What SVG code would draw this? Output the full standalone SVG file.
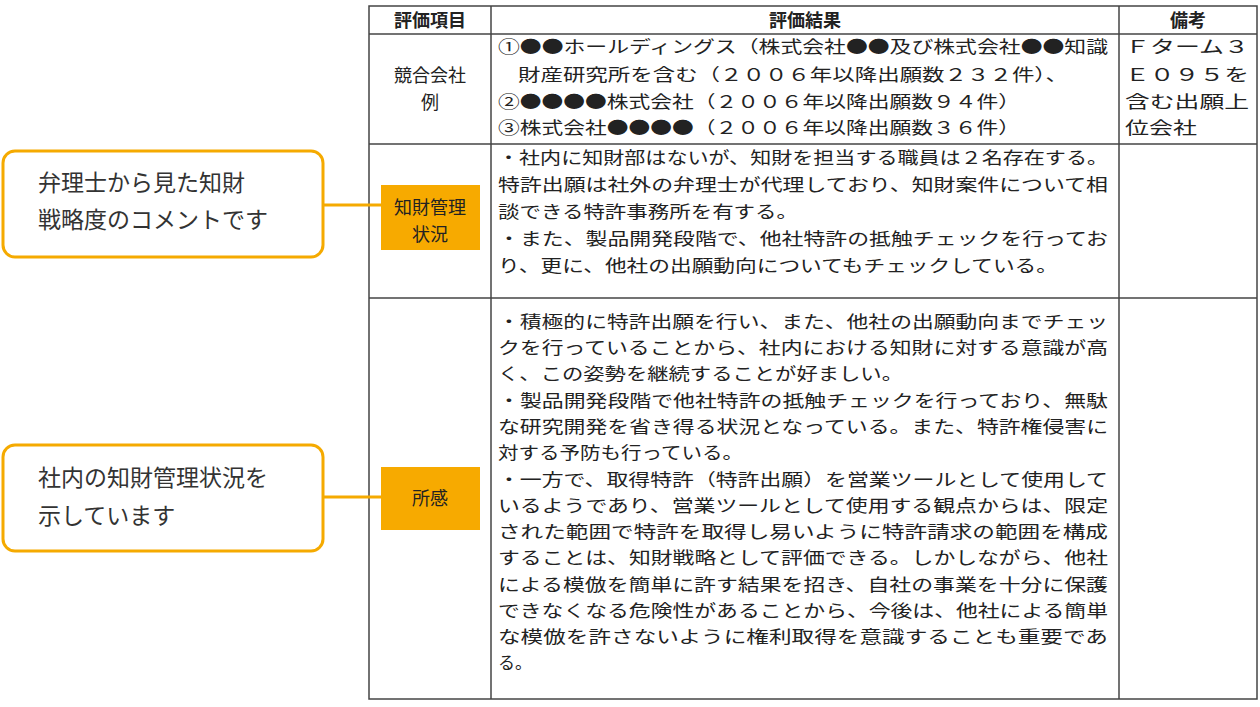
<svg xmlns="http://www.w3.org/2000/svg" width="1260" height="707" viewBox="0 0 1260 707">
<style>
text{font-family:"Noto Sans CJK JP","Noto Sans CJK SC",sans-serif}
.t{font-size:17px;fill:#222}
.h{font-size:18px;fill:#222;text-anchor:middle;font-weight:bold}
.m{font-size:18px;fill:#222;text-anchor:middle}
.g{stroke:#444;stroke-width:1.5;fill:none}
.call{fill:#fff;stroke:#F5AA00;stroke-width:3}
.ct{font-size:23px;fill:#333}
.ob{fill:#F7AA00}
</style>
<rect width="1260" height="707" fill="#fff"/>
<g id="table">
<rect class="g" x="369" y="6" width="888" height="693"/>
<line class="g" x1="491" y1="6" x2="491" y2="699"/>
<line class="g" x1="1119" y1="6" x2="1119" y2="699"/>
<line class="g" x1="369" y1="34" x2="1257" y2="34"/>
<line class="g" x1="369" y1="144" x2="1257" y2="144"/>
<line class="g" x1="369" y1="298" x2="1257" y2="298"/>
<text class="h" x="430" y="27">評価項目</text>
<text class="h" x="805" y="27">評価結果</text>
<text class="h" x="1188" y="27">備考</text>
<text class="m" x="430" y="82">競合会社</text>
<text class="m" x="430" y="109">例</text>
<g class="t">
<text x="498" y="53" textLength="610" lengthAdjust="spacingAndGlyphs">①●●ホールディングス（株式会社●●及び株式会社●●知識</text>
<text x="518" y="81" textLength="550" lengthAdjust="spacingAndGlyphs">財産研究所を含む（２００６年以降出願数２３２件）、</text>
<text x="498" y="108" textLength="522" lengthAdjust="spacingAndGlyphs">②●●●●株式会社（２００６年以降出願数９４件）</text>
<text x="498" y="134" textLength="522" lengthAdjust="spacingAndGlyphs">③株式会社●●●●（２００６年以降出願数３６件）</text>
<text x="1125" y="53" textLength="124" lengthAdjust="spacingAndGlyphs">Ｆターム３</text>
<text x="1125" y="81" textLength="124" lengthAdjust="spacingAndGlyphs">Ｅ０９５を</text>
<text x="1125" y="108" textLength="124" lengthAdjust="spacingAndGlyphs">含む出願上</text>
<text x="1125" y="134" textLength="72" lengthAdjust="spacingAndGlyphs">位会社</text>
</g>
<g class="t">
<text x="498" y="164" textLength="610" lengthAdjust="spacingAndGlyphs">・社内に知財部はないが、知財を担当する職員は２名存在する。</text>
<text x="498" y="191" textLength="610" lengthAdjust="spacingAndGlyphs">特許出願は社外の弁理士が代理しており、知財案件について相</text>
<text x="498" y="218" textLength="300" lengthAdjust="spacingAndGlyphs">談できる特許事務所を有する。</text>
<text x="498" y="245" textLength="610" lengthAdjust="spacingAndGlyphs">・また、製品開発段階で、他社特許の抵触チェックを行ってお</text>
<text x="498" y="272" textLength="560" lengthAdjust="spacingAndGlyphs">り、更に、他社の出願動向についてもチェックしている。</text>
</g>
<g class="t">
<text x="498" y="328" textLength="610" lengthAdjust="spacingAndGlyphs">・積極的に特許出願を行い、また、他社の出願動向までチェッ</text>
<text x="498" y="354" textLength="610" lengthAdjust="spacingAndGlyphs">クを行っていることから、社内における知財に対する意識が高</text>
<text x="498" y="380" textLength="405" lengthAdjust="spacingAndGlyphs">く、この姿勢を継続することが好ましい。</text>
<text x="498" y="407" textLength="610" lengthAdjust="spacingAndGlyphs">・製品開発段階で他社特許の抵触チェックを行っており、無駄</text>
<text x="498" y="433" textLength="610" lengthAdjust="spacingAndGlyphs">な研究開発を省き得る状況となっている。また、特許権侵害に</text>
<text x="498" y="459" textLength="245" lengthAdjust="spacingAndGlyphs">対する予防も行っている。</text>
<text x="498" y="486" textLength="610" lengthAdjust="spacingAndGlyphs">・一方で、取得特許（特許出願）を営業ツールとして使用して</text>
<text x="498" y="512" textLength="610" lengthAdjust="spacingAndGlyphs">いるようであり、営業ツールとして使用する観点からは、限定</text>
<text x="498" y="538" textLength="610" lengthAdjust="spacingAndGlyphs">された範囲で特許を取得し易いように特許請求の範囲を構成</text>
<text x="498" y="564" textLength="610" lengthAdjust="spacingAndGlyphs">することは、知財戦略として評価できる。しかしながら、他社</text>
<text x="498" y="591" textLength="610" lengthAdjust="spacingAndGlyphs">による模倣を簡単に許す結果を招き、自社の事業を十分に保護</text>
<text x="498" y="617" textLength="610" lengthAdjust="spacingAndGlyphs">できなくなる危険性があることから、今後は、他社による簡単</text>
<text x="498" y="643" textLength="610" lengthAdjust="spacingAndGlyphs">な模倣を許さないように権利取得を意識することも重要であ</text>
<text x="498" y="669">る。</text>
</g>
</g>
<g id="connectors">
<line x1="323" y1="205" x2="381" y2="205" stroke="#F5AA00" stroke-width="3"/>
<line x1="323" y1="497" x2="381" y2="497" stroke="#F5AA00" stroke-width="3"/>
</g>
<g id="node-chizai">
<rect class="ob" x="381" y="185" width="99" height="65"/>
<text class="m" x="430" y="214">知財管理</text>
<text class="m" x="430" y="241">状況</text>
</g>
<g id="node-shokan">
<rect class="ob" x="381" y="467" width="99" height="63"/>
<text class="m" x="430" y="505">所感</text>
</g>
<g id="callout1">
<rect class="call" x="3" y="151" width="320" height="106" rx="12"/>
<text class="ct" x="38" y="191">弁理士から見た知財</text>
<text class="ct" x="38" y="228">戦略度のコメントです</text>
</g>
<g id="callout2">
<rect class="call" x="3" y="445" width="320" height="106" rx="12"/>
<text class="ct" x="38" y="486">社内の知財管理状況を</text>
<text class="ct" x="38" y="524">示しています</text>
</g>
</svg>
